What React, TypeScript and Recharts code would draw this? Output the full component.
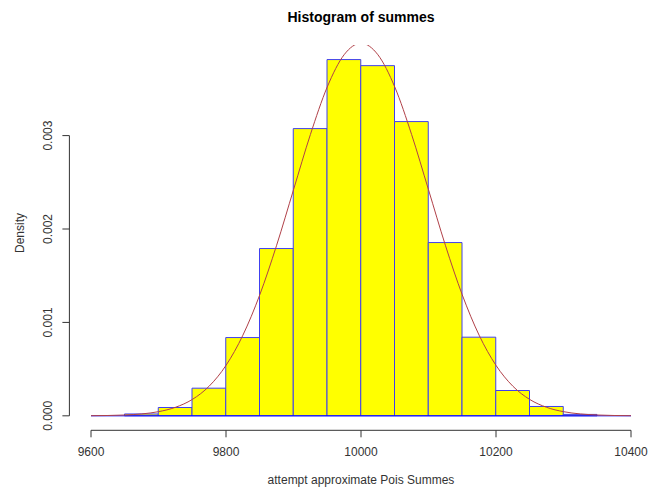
import {
  ComposedChart,
  Bar,
  Line,
  XAxis,
  YAxis,
  ReferenceLine,
  Rectangle,
} from "recharts";

// histogram bins (midpoints) and their densities
const binMids = [
  9625, 9675, 9725, 9775, 9825, 9875, 9925, 9975, 10025, 10075, 10125, 10175,
  10225, 10275, 10325, 10375,
];
const binDensity = [
  0, 0.00002, 0.000089, 0.000296, 0.000838, 0.001791, 0.003075, 0.003814,
  0.003749, 0.00315, 0.001855, 0.000842, 0.000271, 0.0001, 0.000015, 0,
];

// density curve
const curveX = [
  9600, 9625, 9650, 9675, 9700, 9725, 9750, 9775, 9800, 9825, 9850, 9875, 9900,
  9925, 9950, 9975, 10000, 10025, 10050, 10075, 10100, 10125, 10150, 10175,
  10200, 10225, 10250, 10275, 10300, 10325, 10350, 10375, 10400,
];
const curveY = [
  0.0000013, 0.0000035, 0.0000087, 0.0000203, 0.0000443, 0.0000909, 0.000175,
  0.000317, 0.00054, 0.000863, 0.001295, 0.001826, 0.00242, 0.003011, 0.003521,
  0.003866, 0.003989, 0.003866, 0.003521, 0.003011, 0.00242, 0.001826,
  0.001295, 0.000863, 0.00054, 0.000317, 0.000175, 0.0000909, 0.0000443,
  0.0000203, 0.0000087, 0.0000035, 0.0000013,
];

const xTicks = [9600, 9800, 10000, 10200, 10400];
const yTicks = [0, 0.001, 0.002, 0.003];

const W = 661;
const H = 491;
const xDomain: [number, number] = [9568, 10432];
const yDomain: [number, number] = [-0.000155, 0.00397];
const plotLeft = 69.4;
const plotRight = 652.6;

const data = curveX.map((x, k) => {
  const i = binMids.indexOf(x);
  return { x, curve: curveY[k], bar: i >= 0 ? binDensity[i] : undefined };
});

// one bin is 50 units wide
const barPx = ((plotRight - plotLeft) / (xDomain[1] - xDomain[0])) * 50;

const font = "'Liberation Sans', Arial, sans-serif";
const textCol = "#333";

// widen each bar to the full bin around its centre
const BinShape = (props: any) => {
  const cx = props.x + props.width / 2;
  return (
    <Rectangle
      x={cx - barPx / 2}
      y={props.y}
      width={barPx}
      height={props.height}
      fill="#ffff00"
      stroke="#4040ee"
      strokeWidth={1}
    />
  );
};

const XTick = (props: any) => (
  <text
    x={props.x}
    y={456}
    textAnchor="middle"
    fontSize={12}
    fontFamily={font}
    fill={textCol}
  >
    {props.payload.value}
  </text>
);

const YTick = (props: any) => (
  <text
    x={52}
    y={props.y}
    textAnchor="middle"
    fontSize={12}
    fontFamily={font}
    fill={textCol}
    transform={`rotate(-90, 52, ${props.y})`}
  >
    {props.payload.value.toFixed(3)}
  </text>
);

export default function App() {
  return (
    <div
      style={{
        position: "absolute",
        left: 0,
        top: 0,
        width: W,
        height: H,
        background: "#fff",
        fontFamily: font,
      }}
    >
      <div
        style={{
          position: "absolute",
          left: plotLeft,
          width: plotRight - plotLeft,
          top: 9,
          textAlign: "center",
          fontSize: 14,
          fontWeight: "bold",
          lineHeight: "16px",
          color: "#000",
        }}
      >
        Histogram of summes
      </div>
      <div
        style={{
          position: "absolute",
          left: plotLeft,
          width: plotRight - plotLeft,
          top: 473,
          textAlign: "center",
          fontSize: 12,
          lineHeight: "14px",
          color: textCol,
        }}
      >
        attempt approximate Pois Summes
      </div>
      <div
        style={{
          position: "absolute",
          left: 20 - 30,
          top: 233 - 7,
          width: 60,
          textAlign: "center",
          fontSize: 12,
          lineHeight: "14px",
          color: textCol,
          transform: "rotate(-90deg)",
        }}
      >
        Density
      </div>
      <ComposedChart
        width={W}
        height={H}
        data={data}
        margin={{ top: 45, right: W - plotRight, bottom: 30.7, left: 9.4 }}
      >
        <XAxis
          dataKey="x"
          type="number"
          domain={xDomain}
          allowDataOverflow
          ticks={xTicks}
          axisLine={false}
          tickLine={{ stroke: textCol }}
          tickSize={7}
          height={30}
          tick={XTick}
        />
        <YAxis
          type="number"
          domain={yDomain}
          allowDataOverflow
          ticks={yTicks}
          axisLine={false}
          tickLine={{ stroke: textCol }}
          tickSize={7}
          width={60}
          tick={YTick}
        />
        <ReferenceLine
          segment={[
            { x: 9600, y: yDomain[0] },
            { x: 10400, y: yDomain[0] },
          ]}
          stroke={textCol}
          ifOverflow="visible"
        />
        <ReferenceLine
          segment={[
            { x: xDomain[0], y: 0 },
            { x: xDomain[0], y: 0.003 },
          ]}
          stroke={textCol}
          ifOverflow="visible"
        />
        <ReferenceLine
          segment={[
            { x: 9600, y: 0 },
            { x: 10400, y: 0 },
          ]}
          stroke="#0000ff"
          ifOverflow="visible"
        />
        <Bar
          dataKey="bar"
          fill="#ffff00"
          stroke="#4040ee"
          shape={BinShape}
          isAnimationActive={false}
        />
        <Line
          dataKey="curve"
          type="monotone"
          stroke="#b04048"
          strokeWidth={1}
          dot={false}
          activeDot={false}
          isAnimationActive={false}
        />
      </ComposedChart>
    </div>
  );
}
